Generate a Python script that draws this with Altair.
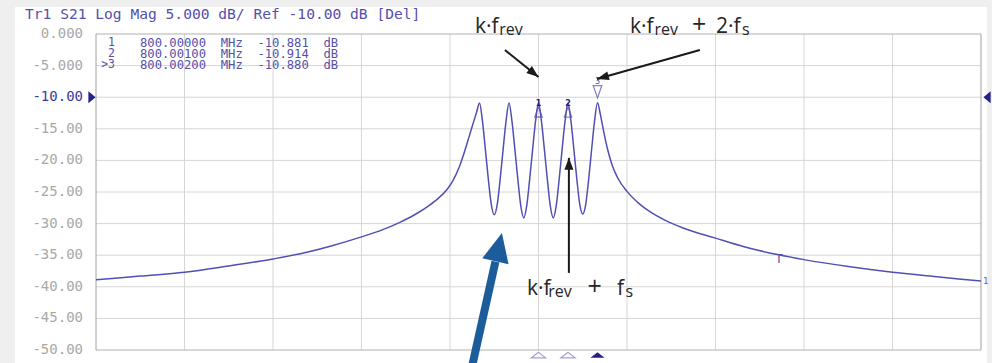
import altair as alt
import pandas as pd

# ---------------- data ----------------
# offset from 800 MHz in kHz, trace level in dB
freq_khz = [
    -15.0, -13.5, -12.0, -10.5, -9.0, -8.0, -7.0, -6.0, -5.3, -4.7, -4.2, -3.7, -3.4, -3.1, -2.9, -2.7, -2.5, -2.35, -2.2, -2.1,
    -2.0, -1.9, -1.8, -1.7, -1.6, -1.5, -1.4, -1.3, -1.2, -1.1,
    -1.0, -0.9, -0.8, -0.7, -0.6, -0.5, -0.4, -0.3, -0.2, -0.1,
    0.0, 0.1, 0.2, 0.3, 0.4, 0.5, 0.6, 0.7, 0.8, 0.9,
    1.0, 1.1, 1.2, 1.3, 1.4, 1.5, 1.6, 1.7, 1.8, 1.9,
    2.0, 2.1, 2.2, 2.35, 2.5, 2.7, 3.0, 3.4, 3.8, 4.3, 4.9, 6.0, 7.0, 8.1, 9.0, 10.5, 12.0, 13.5, 15.0,
]
level_db = [
    -38.9, -38.3, -37.7, -36.7, -35.6, -34.7, -33.5, -32.1, -31.0, -29.8, -28.6, -27.1, -26.0, -24.6, -23.2, -21.2, -18.5, -16.2, -13.9, -12.4,
    -10.9, -13.8, -18.3, -23.0, -27.0, -28.6, -27.0, -23.0, -18.3, -13.8,
    -10.9, -13.8, -18.3, -23.0, -27.2, -29.1, -27.2, -23.0, -18.3, -13.8,
    -10.881, -13.8, -18.3, -23.0, -27.2, -29.1, -27.2, -23.0, -18.3, -13.8,
    -10.914, -13.8, -18.3, -23.0, -27.0, -28.5, -27.0, -23.0, -18.3, -13.8,
    -10.880, -12.8, -15.2, -18.4, -20.8, -22.9, -24.9, -26.8, -28.2, -29.5, -30.7, -32.3, -33.7, -34.9, -35.7, -36.8, -37.7, -38.4, -39.1,
]
center_mhz = 800.0
marker_names = ["1", "2", ">3"]
marker_freq_mhz = [800.00000, 800.00100, 800.00200]
marker_level_db = [-10.881, -10.914, -10.880]
ref_level_db = -10.0
y_ticks = [0, -5, -10, -15, -20, -25, -30, -35, -40, -45, -50]
x_grid_khz = [-15, -12, -9, -6, -3, 0, 3, 6, 9, 12, 15]
tmark_khz = [8.15]
tmark_db = [-34.9]
title_text = "Tr1 S21 Log Mag 5.000 dB/ Ref -10.00 dB [Del]"

# annotation texts (label pieces) in data units; kind 0 = main, 1 = subscript, 2 = plus sign
ann_text = ["k·f", "rev", "k·f", "rev", "+", "2·f", "s", "k·f", "rev", "+", "f", "s"]
ann_x = [-2.15, -1.33, 3.10, 3.93, 5.20, 6.02, 6.90, -0.39, 0.33, 1.66, 2.66, 2.95]
ann_y = [0.16, -0.16, 0.16, -0.16, 0.16, 0.16, -0.16, -41.3, -41.6, -41.3, -41.3, -41.6]
ann_kind = [0, 1, 0, 1, 2, 0, 1, 0, 1, 2, 0, 1]

# arrows: start -> tip, in data units
arrow_x1 = [-1.14, 5.47, 1.03]
arrow_y1 = [-2.53, -2.53, -37.8]
arrow_x2 = [0.0, 1.98, 1.03]
arrow_y2 = [-6.80, -7.12, -19.6]
arrow_ang = [128.5, 254.3, 0.0]
blue_x1, blue_y1, blue_xb, blue_yb, blue_x2, blue_y2 = -2.32, -54.0, -1.46, -36.0, -1.24, -31.5

# ---------------- layout ----------------
W, H = 885, 316
PURPLE = "#5550aa"
TRACE = "#5050b4"
NAVY = "#22228a"
NBSP = "\u00a0"

xs = alt.Scale(domain=[-15, 15], nice=False, zero=False)
ys = alt.Scale(domain=[-50, 0], nice=False, zero=False)


def X(f):
    return alt.X(f, type="quantitative", scale=xs, axis=None)


def Y(f):
    return alt.Y(f, type="quantitative", scale=ys, axis=None)


one = alt.Data(values=[{}])

panel = alt.Chart(one).mark_rect(color="white").encode(
    x=alt.value(-81), x2=alt.value(891), y=alt.value(-27), y2=alt.value(345)
)

grid_v = alt.Chart(pd.DataFrame({"g": x_grid_khz[1:-1]})).mark_rule(color="#d6d6d6", strokeWidth=1).encode(x=X("g"))
grid_h = alt.Chart(pd.DataFrame({"g": y_ticks[1:-1]})).mark_rule(color="#d6d6d6", strokeWidth=1).encode(y=Y("g"))
edge_v = alt.Chart(pd.DataFrame({"g": [x_grid_khz[0], x_grid_khz[-1]]})).mark_rule(color="#a0a0a0", strokeWidth=1).encode(x=X("g"))
edge_h = alt.Chart(pd.DataFrame({"g": [y_ticks[0], y_ticks[-1]]})).mark_rule(color="#b0b0b0", strokeWidth=1).encode(y=Y("g"))

# y tick labels drawn through the y scale
ylab_df = pd.DataFrame({
    "v": y_ticks,
    "lab": [f"{v:.3f}" if abs(v) < 10 else f"{v:.2f}" for v in y_ticks],
    "col": ["#3a3a9a" if v == ref_level_db else "#a8a8a8" for v in y_ticks],
})
ylabels = alt.Chart(ylab_df).mark_text(font="DejaVu Sans Mono", fontSize=14, align="right",
                                       baseline="middle").encode(
    x=alt.value(-13), y=Y("v"), text="lab:N", color=alt.Color("col:N", scale=None)
)

trace_df = pd.DataFrame({"f": freq_khz, "db": level_db})
trace = alt.Chart(trace_df).mark_line(color=TRACE, strokeWidth=1.5, interpolate="monotone").encode(
    x=X("f"), y=Y("db")
)

mk_df = pd.DataFrame({
    "f": [(m - center_mhz) * 1000 for m in marker_freq_mhz],
    "db": marker_level_db,
    "num": [n.strip(">") for n in marker_names],
})
inactive = mk_df.iloc[:2]
active = mk_df.iloc[2:]

up_tri = "M0,-1L0.7,1L-0.7,1Z"
down_tri = "M-0.7,-1L0.7,-1L0,1Z"
flat_tri = "M-1,0.4L0,-0.4L1,0.4Z"

mk_inactive = alt.Chart(inactive).mark_point(shape=up_tri, size=110, filled=False, color=PURPLE,
                                             strokeWidth=1.3, yOffset=9).encode(x=X("f"), y=Y("db"))
mk_inactive_num = alt.Chart(inactive).mark_text(fontSize=8, font="DejaVu Sans", color=NAVY,
                                                 yOffset=1, fontWeight="bold").encode(x=X("f"), y=Y("db"), text="num:N")
mk_active = alt.Chart(active).mark_point(shape=down_tri, size=150, filled=False, color=PURPLE,
                                         strokeWidth=1.3, yOffset=-11).encode(x=X("f"), y=Y("db"))
mk_active_num = alt.Chart(active).mark_text(fontSize=8, font="DejaVu Sans", color=PURPLE,
                                             yOffset=-21).encode(x=X("f"), y=Y("db"), text="num:N")
bottom_open = alt.Chart(inactive).mark_point(shape=flat_tri, size=200, filled=False, color="#7f78c4",
                                             strokeWidth=1.2).encode(x=X("f"), y=alt.value(H + 5))
bottom_fill = alt.Chart(active).mark_point(shape=flat_tri, size=200, filled=True, color=NAVY,
                                           opacity=1).encode(x=X("f"), y=alt.value(H + 5))

ref_df = pd.DataFrame({"db": [ref_level_db]})
ref_left = alt.Chart(ref_df).mark_point(shape="M-0.6,-1L0.6,0L-0.6,1Z", size=144, filled=True,
                                        color=NAVY, opacity=1).encode(x=alt.value(-4), y=Y("db"))
ref_right = alt.Chart(ref_df).mark_point(shape="M0.6,-1L-0.6,0L0.6,1Z", size=144, filled=True,
                                         color=NAVY, opacity=1).encode(x=alt.value(W + 6), y=Y("db"))

tmark = alt.Chart(pd.DataFrame({"f": tmark_khz, "db": tmark_db})).mark_text(
    text="T", fontSize=12, font="DejaVu Sans", color=PURPLE, baseline="top", dy=-1
).encode(x=X("f"), y=Y("db"))

trace_num = alt.Chart(pd.DataFrame({"db": [level_db[-1]]})).mark_text(
    text="1", fontSize=9, font="DejaVu Sans", color="#6a66b8", align="left", baseline="middle"
).encode(x=alt.value(W + 2), y=Y("db"))

title = alt.Chart(one).mark_text(text=title_text, font="DejaVu Sans Mono", fontSize=14.6, color=PURPLE,
                                 align="left", baseline="middle").encode(x=alt.value(-71), y=alt.value(-19))

readout_layers = []
for i, (nm, fm, lv) in enumerate(zip(marker_names, marker_freq_mhz, marker_level_db)):
    ypix = 8.5 + i * 11
    line = f"{fm:.5f}{NBSP} MHz{NBSP} {lv:.3f}{NBSP} dB"
    readout_layers.append(
        alt.Chart(one).mark_text(text=nm, font="DejaVu Sans Mono", fontSize=11.5, color=PURPLE,
                                 align="right", baseline="middle").encode(x=alt.value(19), y=alt.value(ypix))
    )
    readout_layers.append(
        alt.Chart(one).mark_text(text=line, font="DejaVu Sans Mono", fontSize=12.2,
                                 color=PURPLE, align="left", baseline="middle").encode(x=alt.value(44), y=alt.value(ypix))
    )

ann_df = pd.DataFrame({"t": ann_text, "x": ann_x, "y": ann_y, "k": ann_kind})
ann_main = alt.Chart(ann_df[ann_df["k"] == 0]).mark_text(
    font="Open Sans", fontSize=21, color="#262626", align="left", baseline="alphabetic"
).encode(x=X("x"), y=Y("y"), text="t:N")
ann_subs = alt.Chart(ann_df[ann_df["k"] == 1]).mark_text(
    font="Open Sans", fontSize=16, color="#262626", align="left", baseline="alphabetic"
).encode(x=X("x"), y=Y("y"), text="t:N")
ann_plus = alt.Chart(ann_df[ann_df["k"] == 2]).mark_text(
    font="Open Sans", fontSize=25, color="#262626", align="left", baseline="alphabetic"
).encode(x=X("x"), y=Y("y"), text="t:N")

arr_df = pd.DataFrame({"x1": arrow_x1, "y1": arrow_y1, "x2": arrow_x2, "y2": arrow_y2, "a": arrow_ang})
arr_shaft = alt.Chart(arr_df).mark_rule(color="#1a1a1a", strokeWidth=2).encode(
    x=X("x1"), y=Y("y1"), x2="x2", y2="y2"
)
arr_heads = [
    alt.Chart(arr_df.iloc[[k]]).mark_point(shape="M0,0L-0.75,2L0.75,2Z", size=144, filled=True,
                                           color="#1a1a1a", opacity=1, angle=float(arrow_ang[k])).encode(
        x=X("x2"), y=Y("y2"))
    for k in range(3)
]

blue_df = pd.DataFrame({"x1": [blue_x1], "y1": [blue_y1], "xb": [blue_xb], "yb": [blue_yb],
                        "x2": [blue_x2], "y2": [blue_y2]})
blue_shaft = alt.Chart(blue_df).mark_rule(color="#1c5c9a", strokeWidth=8, strokeCap="butt").encode(
    x=X("x1"), y=Y("y1"), x2="xb", y2="yb"
)
blue_head = alt.Chart(blue_df).mark_point(shape="M0,0L-0.93,2L0.93,2Z", size=841, filled=True,
                                          color="#1c5c9a", opacity=1, angle=13.0).encode(x=X("x2"), y=Y("y2"))

chart = alt.layer(
    panel, grid_v, grid_h, edge_v, edge_h, ylabels, trace,
    mk_inactive, mk_inactive_num, mk_active, mk_active_num, bottom_open, bottom_fill,
    ref_left, ref_right, tmark, trace_num, title, *readout_layers,
    ann_main, ann_subs, ann_plus, arr_shaft, *arr_heads, blue_shaft, blue_head,
).properties(
    width=W, height=H, autosize="none",
    padding={"left": 96, "top": 34, "right": 11, "bottom": 13},
    background="#efefef",
).configure_view(stroke=None)

chart.save("out.html", embed_options={"renderer": "svg", "actions": False})
